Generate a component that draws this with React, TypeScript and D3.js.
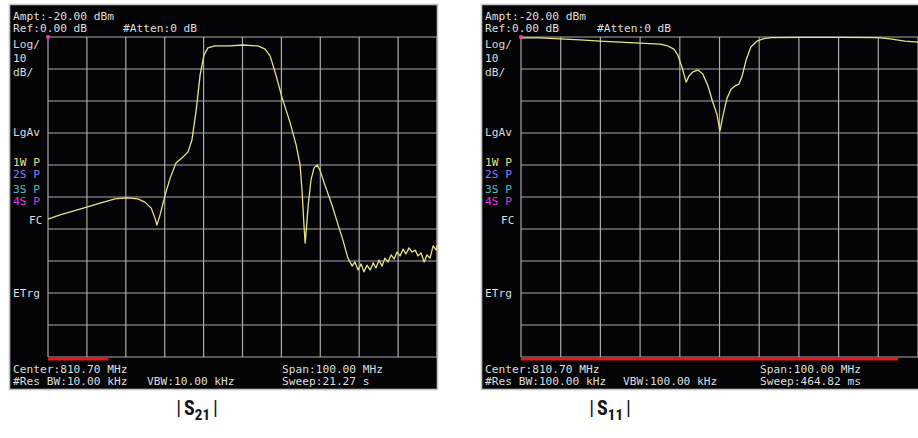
import * as d3 from 'd3';
import React from 'react';

// frequency axis (MHz) and reference level (dB), same for both screens
const startFreq = 760.7;
const stopFreq = 860.7;
const refLevel = 0;
const bottomLevel = -100;

// |S21| trace
const s21Freq = [
  760.7, 763.8, 768.9, 774.1, 777.9, 781.0, 783.8, 785.6, 787.2, 788.2, 788.7, 789.5, 790.8, 792.1,
  793.6, 795.4, 796.7, 797.7, 798.8, 799.8, 800.8, 801.8, 803.6, 807.5, 810.8, 814.7, 816.5, 817.8,
  819.3, 820.9, 822.9, 824.5, 825.5, 826.0, 826.5, 826.8, 827.0, 827.6, 828.3, 829.1, 829.9, 830.6,
  831.9, 833.7, 835.3, 836.5, 837.8, 838.9, 839.6, 840.4, 841.2, 841.9, 842.7, 843.5, 844.3, 845.0,
  845.8, 846.6, 847.3, 848.1, 848.9, 849.7, 850.4, 851.2, 852.0, 852.7, 853.5, 854.3, 855.1, 855.8,
  856.6, 857.4, 858.1, 858.9, 859.7, 860.5, 860.7,
];
const s21Level = [
  -56.9, -55.6, -53.8, -51.9, -50.6, -50.3, -50.6, -51.6, -53.4, -56.6, -58.8, -55.6, -49.4, -44.1,
  -39.4, -37.5, -35.9, -32.2, -22.8, -11.9, -5.6, -3.4, -2.8, -2.8, -2.5, -2.8, -3.8, -5.9,
  -11.9, -19.1, -26.6, -33.8, -40.0, -47.8, -58.8, -64.4, -61.9, -52.5, -44.7, -40.9, -40.0, -41.6,
  -46.3, -52.5, -58.8, -63.4, -69.1, -71.6, -70.3, -72.8, -70.9, -73.4, -71.3, -72.8, -70.6, -72.2,
  -69.7, -71.6, -69.1, -70.3, -68.1, -69.4, -67.2, -68.4, -66.3, -67.8, -65.9, -67.2, -66.6, -68.4,
  -67.5, -70.3, -68.1, -69.1, -65.3, -66.6, -65.0,
];

// |S11| trace
const s11Freq = [
  760.7, 765.5, 770.5, 775.6, 780.6, 785.6, 790.7, 795.7, 797.7, 799.2, 800.2, 801.3, 802.3, 803.0,
  804.0, 805.3, 806.5, 807.8, 809.0, 810.1, 810.8, 811.6, 812.6, 813.6, 814.6, 815.6, 816.4, 817.4,
  818.6, 820.1, 821.9, 823.7, 831.0, 841.1, 850.6, 853.7, 857.4, 860.7,
];
const s11Level = [
  -0.3, -0.3, -0.6, -0.9, -1.3, -1.6, -1.9, -2.2, -2.8, -3.8, -5.6, -9.7, -14.1, -12.2,
  -10.9, -10.3, -11.6, -15.3, -20.3, -24.4, -29.4, -24.4, -19.1, -16.3, -15.3, -14.7, -12.2, -7.2,
  -3.1, -1.3, -0.5, -0.2, -0.1, -0.1, -0.2, -0.6, -1.3, -1.6,
];

const s21Header = ['Ampt:-20.00 dBm', 'Ref:0.00 dB', '#Atten:0 dB'];
const s21Footer = ['Center:810.70 MHz', '#Res BW:10.00 kHz', 'VBW:10.00 kHz', 'Span:100.00 MHz', 'Sweep:21.27 s'];
const s11Header = ['Ampt:-20.00 dBm', 'Ref:0.00 dB', '#Atten:0 dB'];
const s11Footer = ['Center:810.70 MHz', '#Res BW:100.00 kHz', 'VBW:100.00 kHz', 'Span:100.00 MHz', 'Sweep:464.82 ms'];
const sideLabels = ['Log/', '10', 'dB/', 'LgAv'];
const traceLabels = ['1W P', '2S P', '3S P', '4S P'];
const traceColors = ['#e4e27a', '#8f7cff', '#3fc4c0', '#e23ce0'];

const mono = '"DejaVu Sans Mono", "Liberation Mono", monospace';
const textColor = '#dedede';
const gridColor = '#a9a9a9';

type PanelProps = {
  frame: { x0: number; x1: number };
  grid: { left: number; right: number };
  textX: number;
  attenX: number;
  vbwX: number;
  spanX: number;
  barEnd: number; // sweep progress, MHz
  header: string[];
  footer: string[];
  freq: number[];
  level: number[];
};

function Panel(p: PanelProps) {
  const top = 37;
  const bottom = 357;
  const x = d3.scaleLinear().domain([startFreq, stopFreq]).range([p.grid.left, p.grid.right]);
  const y = d3.scaleLinear().domain([refLevel, bottomLevel]).range([top, bottom]);
  const pts = p.freq.map((f, i) => [f, p.level[i]] as [number, number]);
  const line = d3
    .line<[number, number]>()
    .x(d => x(d[0]))
    .y(d => y(d[1]))
    .curve(d3.curveLinear);
  const vTicks = d3.range(0, 11).map(i => startFreq + i * 10);
  const hTicks = d3.range(0, 11).map(i => refLevel - i * 10);
  const fs = 11.2;

  return (
    <g>
      <rect x={p.frame.x0} y={4} width={p.frame.x1 - p.frame.x0} height={386} fill="#040406" />
      <rect
        x={p.frame.x0 + 0.5}
        y={4.5}
        width={p.frame.x1 - p.frame.x0 - 1}
        height={385}
        fill="none"
        stroke="#c4c4c4"
        strokeWidth={1.6}
      />
      {vTicks.map(f => (
        <line key={'v' + f} x1={x(f)} x2={x(f)} y1={top} y2={bottom} stroke={gridColor} strokeWidth={1.2} />
      ))}
      {hTicks.map(l => (
        <line key={'h' + l} x1={p.grid.left} x2={p.grid.right} y1={y(l)} y2={y(l)} stroke={gridColor} strokeWidth={1.2} />
      ))}
      <path d={line(pts) ?? ''} fill="none" stroke="#e6e487" strokeWidth={1.3} strokeLinejoin="round" />
      <rect x={x(startFreq)} y={bottom} width={x(p.barEnd) - x(startFreq)} height={3.5} fill="#e0191b" />
      <circle cx={x(startFreq)} cy={top} r={2} fill="#ff3cc8" />

      <g fontFamily={mono} fontSize={fs} fill={textColor}>
        <text x={p.textX} y={20}>{p.header[0]}</text>
        <text x={p.textX} y={32}>{p.header[1]}</text>
        <text x={p.attenX} y={32}>{p.header[2]}</text>
        <text x={p.textX} y={48}>{sideLabels[0]}</text>
        <text x={p.textX} y={62}>{sideLabels[1]}</text>
        <text x={p.textX} y={76}>{sideLabels[2]}</text>
        <text x={p.textX} y={136}>{sideLabels[3]}</text>
        {traceLabels.map((t, i) => (
          <text key={t} x={p.textX} y={[166, 178, 193, 205][i]} fill={traceColors[i]}>
            {t}
          </text>
        ))}
        <text x={p.textX + 16} y={224}>FC</text>
        <text x={p.textX} y={297}>ETrg</text>
        <text x={p.textX} y={373}>{p.footer[0]}</text>
        <text x={p.textX} y={385}>{p.footer[1]}</text>
        <text x={p.vbwX} y={385}>{p.footer[2]}</text>
        <text x={p.spanX} y={373}>{p.footer[3]}</text>
        <text x={p.spanX} y={385}>{p.footer[4]}</text>
      </g>
    </g>
  );
}

function Caption({ cx, sub }: { cx: number; sub: string }) {
  const font = '"Liberation Sans Narrow", "Roboto Condensed", "Arial Narrow", sans-serif';
  return (
    <text x={cx} y={415} textAnchor="middle" fontFamily={font} fontWeight="bold" fontSize={20} fill="#111">
      <tspan fontWeight="normal">|</tspan>
      <tspan dx={3}>S</tspan>
      <tspan fontSize={15} dy={5}>{sub}</tspan>
      <tspan dx={3} dy={-5} fontWeight="normal">|</tspan>
    </text>
  );
}

export default function App() {
  return (
    <svg width={918} height={438} style={{ position: 'absolute', left: 0, top: 0 }}>
      <rect width={918} height={438} fill="#fff" />
      <Panel
        frame={{ x0: 9, x1: 438 }}
        grid={{ left: 48, right: 437 }}
        textX={13}
        attenX={123}
        vbwX={147}
        spanX={282}
        barEnd={776.2}
        header={s21Header}
        footer={s21Footer}
        freq={s21Freq}
        level={s21Level}
      />
      <Panel
        frame={{ x0: 481, x1: 920 }}
        grid={{ left: 521, right: 918 }}
        textX={485}
        attenX={597}
        vbwX={623}
        spanX={760}
        barEnd={855.7}
        header={s11Header}
        footer={s11Footer}
        freq={s11Freq}
        level={s11Level}
      />
      <Caption cx={197} sub="21" />
      <Caption cx={610} sub="11" />
    </svg>
  );
}
